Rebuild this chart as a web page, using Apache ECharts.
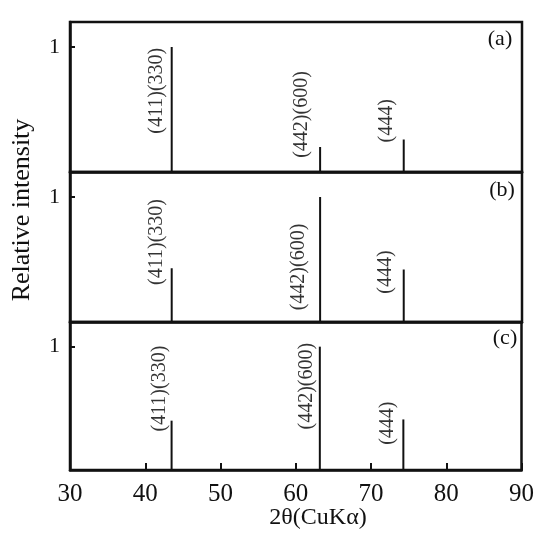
<!DOCTYPE html>
<html>
<head>
<meta charset="utf-8">
<script src="https://cdn.jsdelivr.net/npm/echarts@6/dist/echarts.min.js"></script>
<style>
  html, body { margin: 0; padding: 0; background: #fff; }
  #chart { width: 537px; height: 533px; }
</style>
</head>
<body>
<div id="chart"></div>
<script>
// peak positions (2theta) and reflection names
const peakPos = [43.5, 63.2, 74.3];
const peakNames = ['(411)(330)', '(442)(600)', '(444)'];

// relative intensities per sample
const intensityA = [1.0, 0.2, 0.26];
const intensityB = [0.43, 1.0, 0.42];
const intensityC = [0.4, 1.0, 0.41];

const panelNames = ['(a)', '(b)', '(c)'];
const xTickLabels = [30, 40, 50, 60, 70, 80, 90];

// where the rotated reflection labels sit, in data units [2theta, intensity]
const labelAnchorsA = [[41.55, 0.65], [60.8, 0.46], [72.1, 0.41]];
const labelAnchorsB = [[41.55, 0.64], [60.3, 0.44], [71.9, 0.40]];
const labelAnchorsC = [[41.9, 0.66], [61.5, 0.68], [72.2, 0.38]];

const FONT = "'Liberation Serif', 'DejaVu Serif', serif";
const INK = '#111';

const chart = echarts.init(document.getElementById('chart'));

const grids = [
  { left: 70, right: 15, top: 22, height: 150 },
  { left: 70, right: 15, top: 172, height: 150 },
  { left: 70, right: 15, top: 322, height: 148 }
].map(g => Object.assign(g, { show: true, borderColor: INK, borderWidth: 2.5, backgroundColor: 'transparent' }));

const xAxes = [0, 1, 2].map(i => ({
  type: 'value',
  gridIndex: i,
  min: xTickLabels[0],
  max: xTickLabels[xTickLabels.length - 1],
  interval: 10,
  axisLine: { show: true, lineStyle: { color: INK, width: 2.5 } },
  axisTick: { show: i === 2, inside: true, length: 7, lineStyle: { color: INK, width: 2 } },
  axisLabel: {
    show: i === 2,
    margin: 12,
    fontFamily: FONT,
    fontSize: 25,
    color: INK
  },
  splitLine: { show: false }
}));

const yAxes = [0, 1, 2].map(i => ({
  type: 'value',
  gridIndex: i,
  min: 0,
  max: 1.2,
  interval: 1,
  axisLine: { show: true, lineStyle: { color: INK, width: 2.5 } },
  axisTick: { show: true, inside: true, length: 5, lineStyle: { color: INK, width: 2 } },
  axisLabel: {
    margin: 10,
    fontFamily: FONT,
    fontSize: 22,
    color: INK,
    formatter: v => (v === 1 ? '1' : '')
  },
  splitLine: { show: false }
}));

const intensities = [intensityA, intensityB, intensityC];
const anchors = [labelAnchorsA, labelAnchorsB, labelAnchorsC];

const series = [];
intensities.forEach((vals, i) => {
  series.push({
    type: 'bar',
    xAxisIndex: i,
    yAxisIndex: i,
    barWidth: 2,
    itemStyle: { color: INK },
    data: peakPos.map((x, k) => [x, vals[k]]),
    silent: true
  });
  series.push({
    type: 'scatter',
    xAxisIndex: i,
    yAxisIndex: i,
    symbolSize: 1,
    itemStyle: { color: 'transparent' },
    label: {
      show: true,
      position: 'inside',
      rotate: 90,
      formatter: p => p.name,
      fontFamily: FONT,
      fontSize: 20,
      color: '#000',
      textBorderWidth: 0
    },
    data: anchors[i].map((a, k) => ({ name: peakNames[k], value: a })),
    silent: true
  });
});

const panelLabelPos = [[500, 39], [502, 190], [505, 338]];

const graphic = panelNames.map((t, i) => ({
  type: 'text',
  x: panelLabelPos[i][0],
  y: panelLabelPos[i][1],
  style: { text: t, fontFamily: FONT, fontSize: 22, fill: INK, textAlign: 'center', textVerticalAlign: 'middle' }
}));

graphic.push({
  type: 'text',
  x: 22,
  y: 210,
  rotation: Math.PI / 2,
  style: { text: 'Relative intensity', fontFamily: FONT, fontSize: 26, fill: INK, textAlign: 'center', textVerticalAlign: 'middle' }
});

graphic.push({
  type: 'text',
  x: 318,
  y: 518,
  style: { text: '2θ(CuKα)', fontFamily: FONT, fontSize: 24, fill: INK, textAlign: 'center', textVerticalAlign: 'middle' }
});

chart.setOption({
  backgroundColor: '#fff',
  animation: false,
  grid: grids,
  xAxis: xAxes,
  yAxis: yAxes,
  series: series,
  graphic: graphic
});
</script>
</body>
</html>
